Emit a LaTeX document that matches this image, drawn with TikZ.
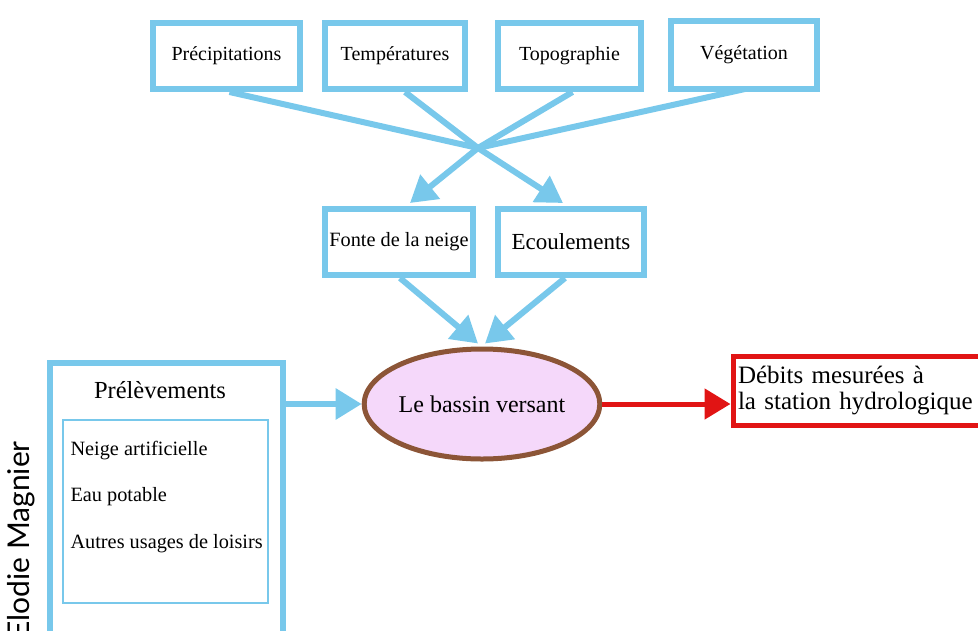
\documentclass[tikz,border=0pt]{standalone}
\usepackage{fontspec}
\setmainfont{Liberation Serif}
\newfontfamily\signfont{Lato}
\usetikzlibrary{arrows.meta,shapes.geometric}
\definecolor{sky}{RGB}{120,200,235}
\definecolor{redline}{RGB}{225,20,20}
\definecolor{pinkfill}{RGB}{245,216,250}
\definecolor{brownline}{RGB}{140,85,55}
\tikzset{
  bluebox/.style={draw=sky, line width=6pt, fill=white, inner sep=0pt, align=center},
  blueline/.style={draw=sky, line width=6pt},
  bluearrow/.style={draw=sky, line width=6pt, -{Triangle[length=26pt,width=30pt]}},
  redarrow/.style={draw=redline, line width=5pt, -{Triangle[length=26pt,width=30pt]}},
  topfont/.style={font=\fontsize{20}{23}\selectfont},
}
\begin{document}
\begin{tikzpicture}[x=1pt,y=-1pt]
\useasboundingbox (0,0) rectangle (978,630);
\clip (0,0) rectangle (978,630);
% top boxes
\node[bluebox, topfont, minimum width=147pt, minimum height=66pt] (prec) at (226.5,56) {Précipitations};
\node[bluebox, topfont, minimum width=140pt, minimum height=66pt] (temp) at (395,56) {Températures};
\node[bluebox, topfont, minimum width=143pt, minimum height=66pt] (topo) at (569.5,56) {Topographie};
\node[bluebox, topfont, minimum width=146pt, minimum height=68pt] (vege) at (744,55) {Végétation};
% middle boxes
\node[bluebox, font=\fontsize{20.3}{23}\selectfont, minimum width=148pt, minimum height=66pt] (fonte) at (399,242) {Fonte de la neige};
\node[bluebox, font=\fontsize{23}{26}\selectfont, minimum width=146pt, minimum height=66pt] (ecoul) at (571,242) {Ecoulements};
% ellipse
\node[ellipse, draw=brownline, fill=pinkfill, line width=5pt, minimum width=230pt, minimum height=110pt, inner sep=0pt, font=\fontsize{24}{27}\selectfont] (bassin) at (482,404) {Le bassin versant};
% output box
\node[draw=redline, line width=5pt, fill=white, minimum width=262pt, minimum height=69pt, text width=252pt, inner sep=0pt, align=left, font=\fontsize{25}{26}\selectfont] (debits) at (864,390.5) {Débits mesurées à\\la station hydrologique};
% prelevements
\node[draw=sky, line width=6pt, fill=white, minimum width=233pt, minimum height=274pt, inner sep=0pt] (prel) at (166.5,500) {};
\node[font=\fontsize{24.5}{27}\selectfont] (preltitle) at (160,390) {Prélèvements};
\node[draw=sky, line width=1.2pt, minimum width=205pt, minimum height=183pt, inner sep=0pt] (inner) at (165.5,511.5) {};
\node[anchor=west, font=\fontsize{20.3}{23}\selectfont] (it1) at (67,451) {Neige artificielle};
\node[anchor=west, font=\fontsize{20.3}{23}\selectfont] (it2) at (67,497) {Eau potable};
\node[anchor=west, font=\fontsize{20.3}{23}\selectfont] (it3) at (67,544) {Autres usages de loisirs};
% signature
\node[rotate=90, anchor=east, font=\signfont\fontsize{30}{33}\selectfont, inner sep=0pt] (sign) at (21,441) {Elodie Magnier};
% connectors
\coordinate (X) at (478,148);
\draw[blueline] ([xshift=3pt]prec.south) -- (X);
\draw[blueline] ([xshift=10pt]temp.south) -- (X);
\draw[blueline] ([xshift=3pt]topo.south) -- (X);
\draw[blueline] ([xshift=1pt,yshift=3pt]vege.south) -- (X);
\draw[bluearrow] (X) -- ([xshift=11pt,yshift=3pt]fonte.north);
\draw[bluearrow] (X) -- ([xshift=-8pt,yshift=3pt]ecoul.north);
\draw[bluearrow] ([xshift=1pt]fonte.south) -- ([xshift=-4pt,yshift=3pt]bassin.north);
\draw[bluearrow] ([xshift=-6pt]ecoul.south) -- ([xshift=3pt,yshift=3pt]bassin.north);
\draw[bluearrow] (prel.east |- bassin.west) -- (bassin.west);
\draw[redarrow] (bassin.east) -- (bassin.east -| debits.west);
\end{tikzpicture}
\end{document}
